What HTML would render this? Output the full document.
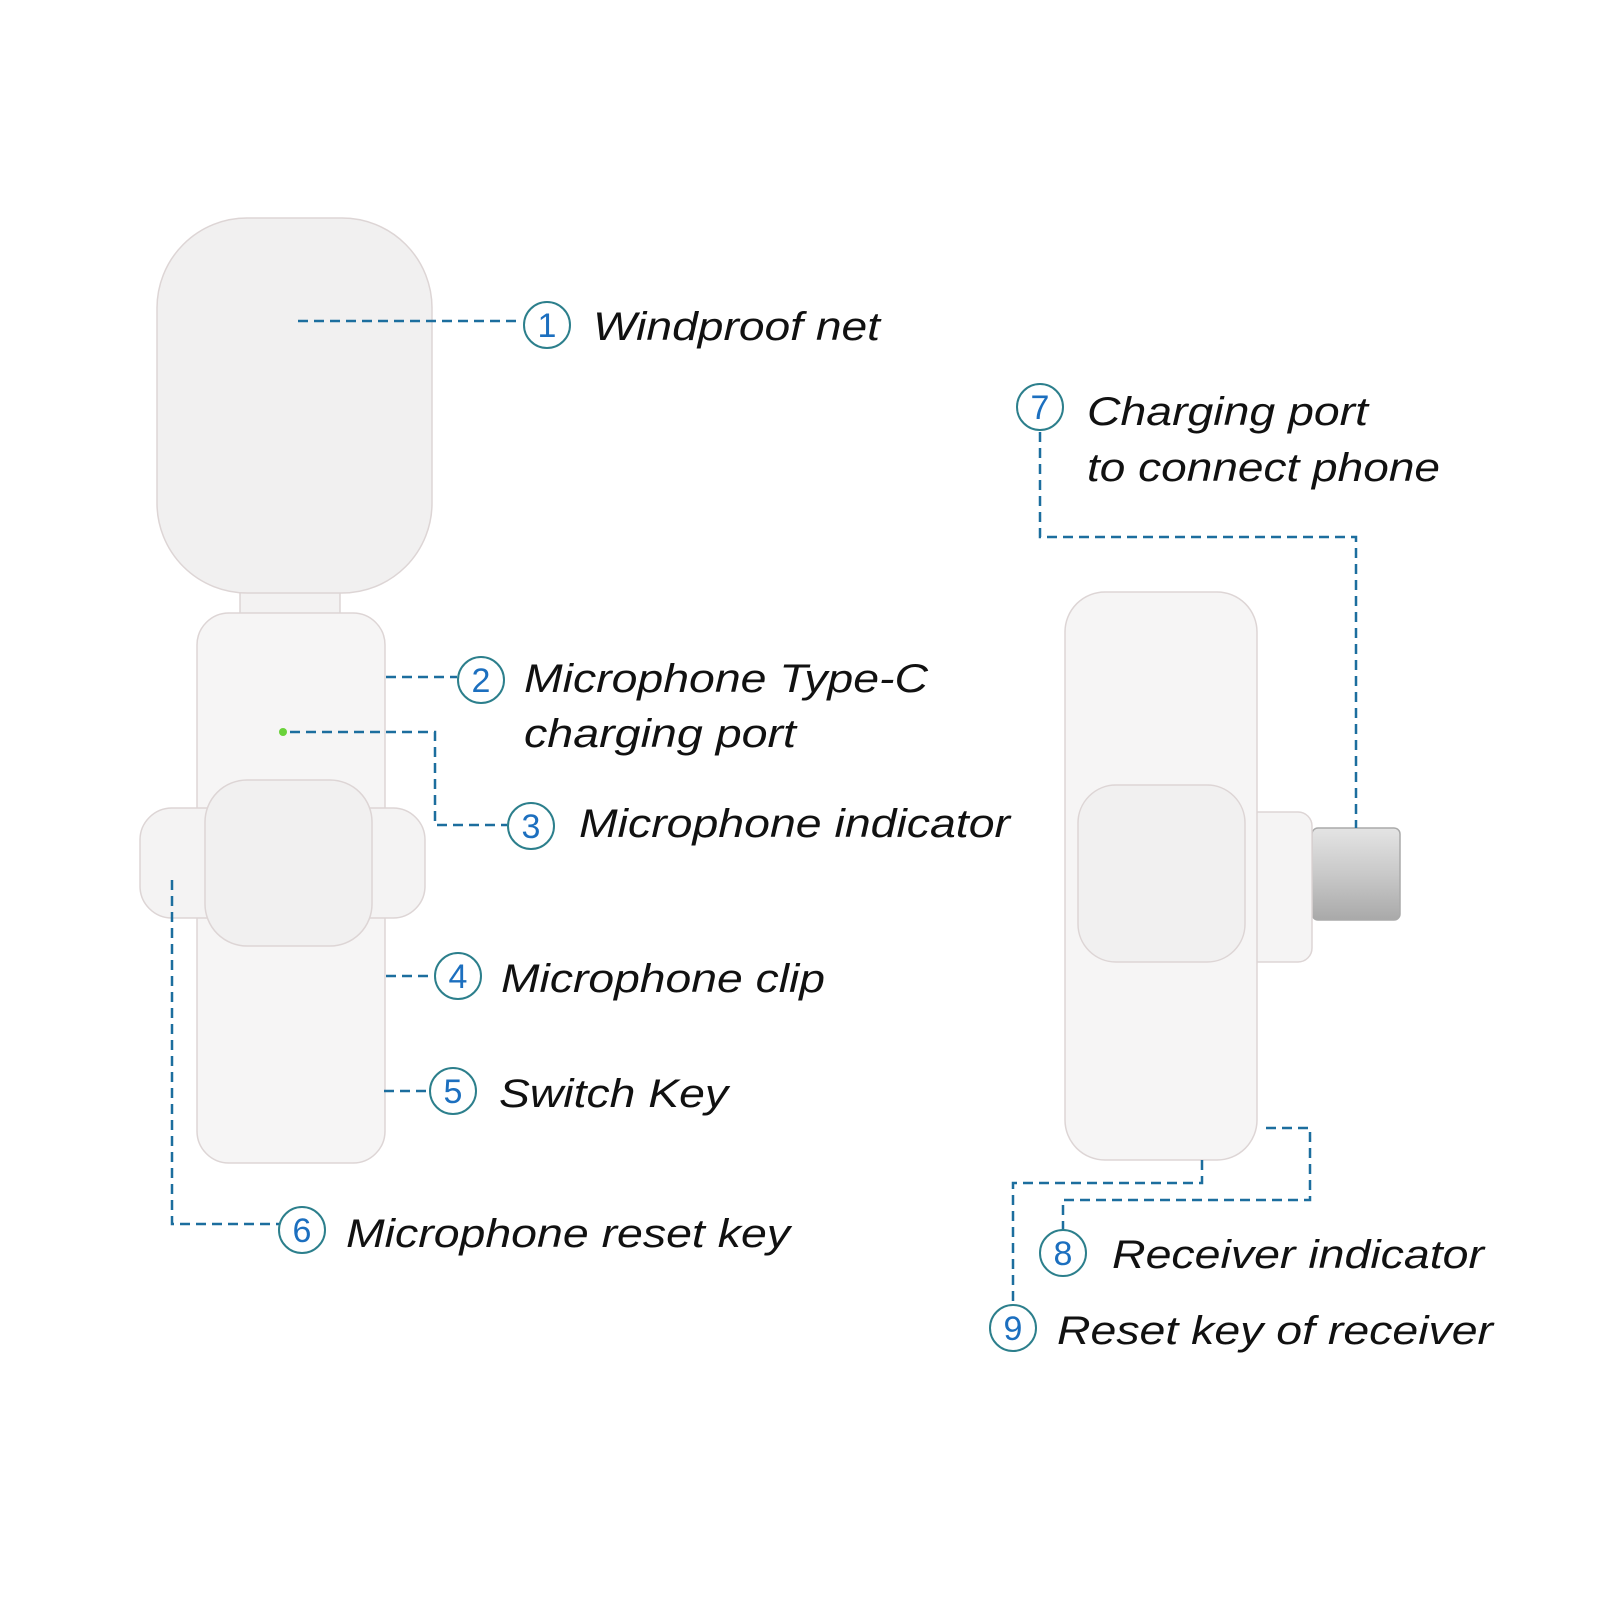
<!DOCTYPE html>
<html><head><meta charset="utf-8"><style>html,body{margin:0;padding:0;background:#fff}svg{display:block}</style></head>
<body>
<svg width="1600" height="1600" viewBox="0 0 1600 1600" xmlns="http://www.w3.org/2000/svg">
<defs>
<linearGradient id="usb" x1="0" y1="0" x2="0" y2="1">
<stop offset="0" stop-color="#e4e4e4"/><stop offset="0.5" stop-color="#c9c9c9"/><stop offset="1" stop-color="#a9a9a9"/>
</linearGradient>
</defs>
<rect width="1600" height="1600" fill="#fff"/>
<!-- Microphone -->
<g stroke="#ddd5d5" stroke-width="1.5" fill="#f4f3f3">
<rect x="240" y="585" width="100" height="35" fill="#f3f2f2"/>
<rect x="157" y="218" width="275" height="375" rx="90" fill="#f1f0f0"/>
<rect x="197" y="613" width="188" height="550" rx="32" fill="#f6f5f5"/>
<rect x="140" y="808" width="285" height="110" rx="32" fill="#f4f3f3"/>
<rect x="205" y="780" width="167" height="166" rx="42" fill="#f1f0f0"/>
</g>
<circle cx="283" cy="732" r="4" fill="#6ad23a"/>
<!-- Receiver -->
<g stroke="#ddd5d5" stroke-width="1.5">
<rect x="1312" y="828" width="88" height="92" rx="6" fill="url(#usb)" stroke="#aaa"/>
<rect x="1240" y="812" width="72" height="150" rx="14" fill="#f5f4f4"/>
<rect x="1065" y="592" width="192" height="568" rx="40" fill="#f6f5f5"/>
<rect x="1078" y="785" width="167" height="177" rx="38" fill="#f1f0f0"/>
</g>
<!-- connectors -->
<g fill="none" stroke="#1c6e9e" stroke-width="2.5" stroke-dasharray="10,6">
<path d="M298 321H522"/>
<path d="M386 677H457"/>
<path d="M290 732H435V825H507"/>
<path d="M386 976H433"/>
<path d="M384 1091H429"/>
<path d="M172 880V1224H279"/>
<path d="M1040 432V537H1356V828"/>
<path d="M1266 1128H1310V1200H1063V1230"/>
<path d="M1202 1160V1183H1013V1305"/>
</g>
<g fill="none" stroke="#2c7f8c" stroke-width="2">
<circle cx="547" cy="325" r="23"/>
<circle cx="481" cy="680" r="23"/>
<circle cx="531" cy="826" r="23"/>
<circle cx="458" cy="976" r="23"/>
<circle cx="453" cy="1091" r="23"/>
<circle cx="302" cy="1230" r="23"/>
<circle cx="1040" cy="407" r="23"/>
<circle cx="1063" cy="1253" r="23"/>
<circle cx="1013" cy="1328" r="23"/>
</g>
<g fill="#1c6fbf" font-family="Liberation Sans, sans-serif" font-size="34" text-anchor="middle">
<text x="547" y="337">1</text>
<text x="481" y="692">2</text>
<text x="531" y="838">3</text>
<text x="458" y="988">4</text>
<text x="453" y="1103">5</text>
<text x="302" y="1242">6</text>
<text x="1040" y="419">7</text>
<text x="1063" y="1265">8</text>
<text x="1013" y="1340">9</text>
</g>
<g fill="#111" font-family="Liberation Sans, sans-serif" font-style="italic" font-size="40" lengthAdjust="spacingAndGlyphs">
<text x="593" y="340" textLength="287" lengthAdjust="spacingAndGlyphs">Windproof net</text>
<text x="524" y="692" textLength="404" lengthAdjust="spacingAndGlyphs">Microphone Type-C</text>
<text x="524" y="747" textLength="272" lengthAdjust="spacingAndGlyphs">charging port</text>
<text x="579" y="837" textLength="431" lengthAdjust="spacingAndGlyphs">Microphone indicator</text>
<text x="501" y="992" textLength="324" lengthAdjust="spacingAndGlyphs">Microphone clip</text>
<text x="499" y="1107" textLength="229" lengthAdjust="spacingAndGlyphs">Switch Key</text>
<text x="346" y="1247" textLength="444" lengthAdjust="spacingAndGlyphs">Microphone reset key</text>
<text x="1087" y="425" textLength="281" lengthAdjust="spacingAndGlyphs">Charging port</text>
<text x="1087" y="481" textLength="353" lengthAdjust="spacingAndGlyphs">to connect phone</text>
<text x="1112" y="1268" textLength="372" lengthAdjust="spacingAndGlyphs">Receiver indicator</text>
<text x="1057" y="1344" textLength="436" lengthAdjust="spacingAndGlyphs">Reset key of receiver</text>
</g>
</svg>
</body></html>
